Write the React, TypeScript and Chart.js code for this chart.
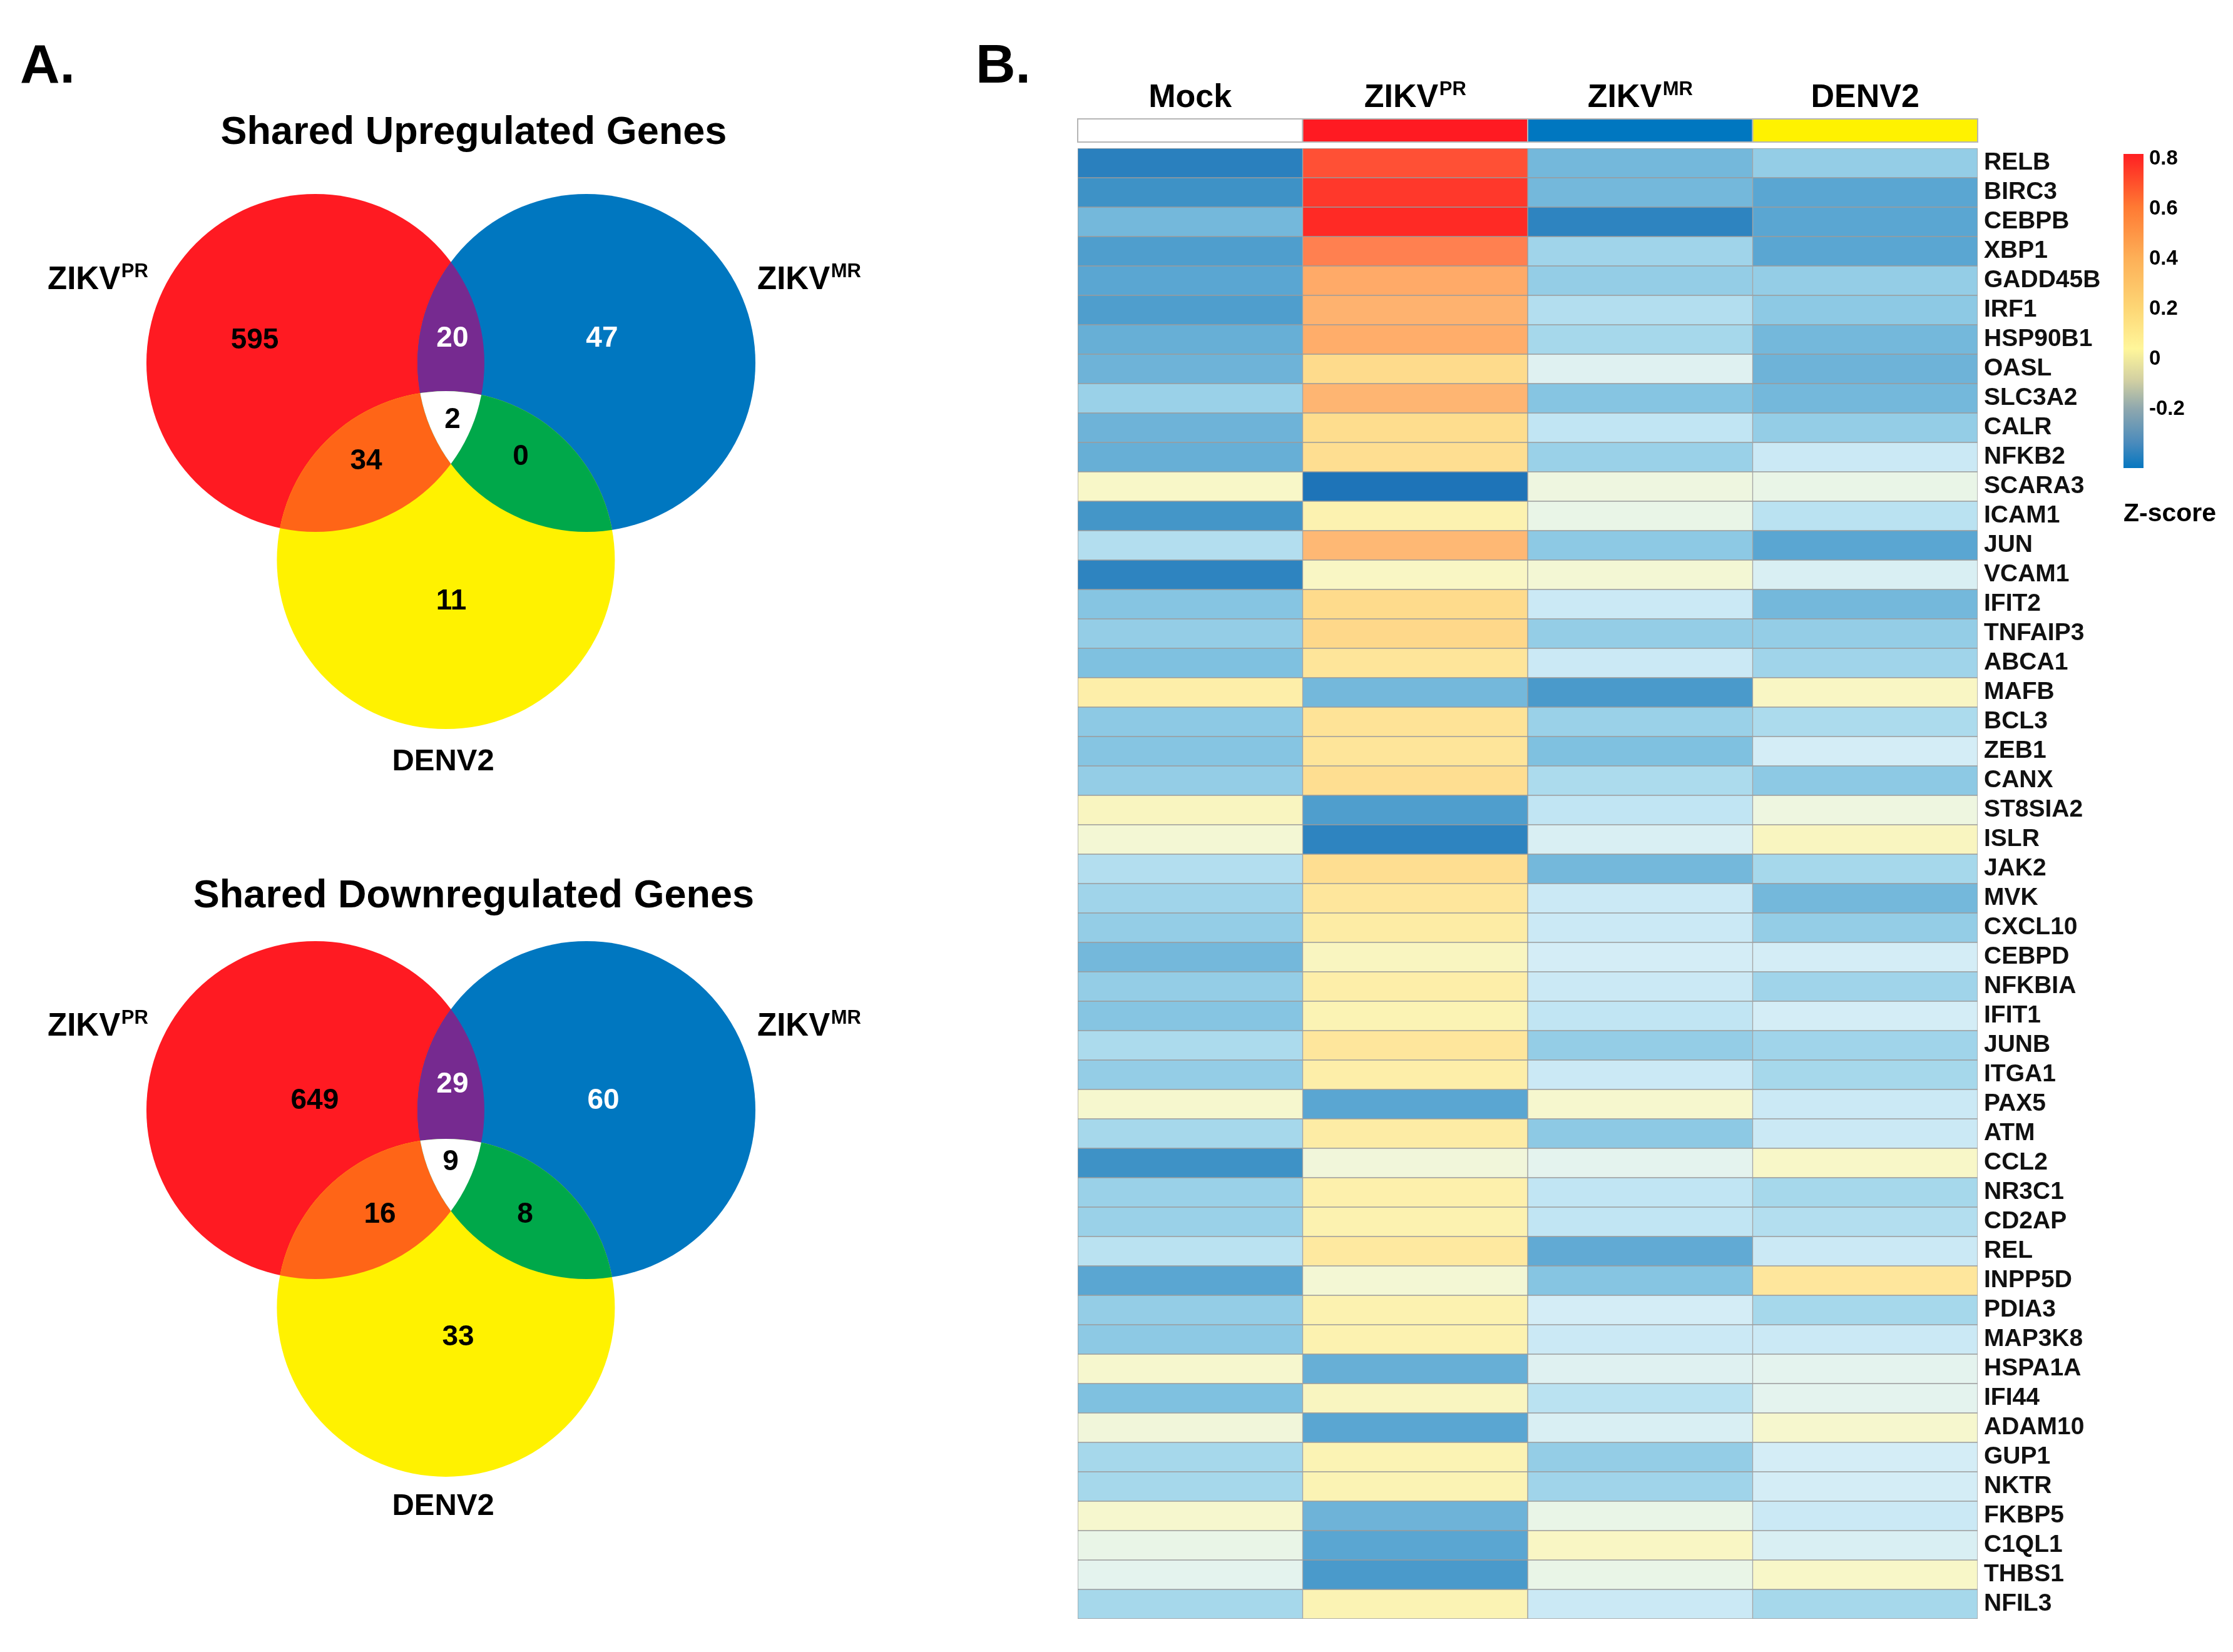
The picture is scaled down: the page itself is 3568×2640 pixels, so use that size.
import React, { useEffect, useRef } from "react";
import { Chart, registerables } from "chart.js";
Chart.register(...registerables);

// ================= DATA =================
const setNames = ["ZIKV", "ZIKV", "DENV2"];
const setSups = ["PR", "MR", ""];
// region order: PR only, MR only, DENV2 only, PR∩MR, PR∩DENV2, MR∩DENV2, all three
const regionNames = ["PR", "MR", "DENV2", "PR&MR", "PR&DENV2", "MR&DENV2", "PR&MR&DENV2"];
const upCounts = [595, 47, 11, 20, 34, 0, 2];
const downCounts = [649, 60, 33, 29, 16, 8, 9];

const genes = [
  "RELB", "BIRC3", "CEBPB", "XBP1", "GADD45B", "IRF1", "HSP90B1", "OASL", "SLC3A2", "CALR",
  "NFKB2", "SCARA3", "ICAM1", "JUN", "VCAM1", "IFIT2", "TNFAIP3", "ABCA1", "MAFB", "BCL3",
  "ZEB1", "CANX", "ST8SIA2", "ISLR", "JAK2", "MVK", "CXCL10", "CEBPD", "NFKBIA", "IFIT1",
  "JUNB", "ITGA1", "PAX5", "ATM", "CCL2", "NR3C1", "CD2AP", "REL", "INPP5D", "PDIA3",
  "MAP3K8", "HSPA1A", "IFI44", "ADAM10", "GUP1", "NKTR", "FKBP5", "C1QL1", "THBS1", "NFIL3",
];
const conditionNames = ["Mock", "ZIKV", "ZIKV", "DENV2"];
const conditionSups = ["", "PR", "MR", ""];

const mockZ = [
  -0.30, -0.26, -0.17, -0.23, -0.21, -0.23, -0.19, -0.18, -0.11, -0.18,
  -0.19, 0.06, -0.25, -0.07, -0.29, -0.14, -0.12, -0.15, 0.15, -0.13,
  -0.14, -0.12, 0.08, 0.04, -0.07, -0.10, -0.12, -0.17, -0.12, -0.14,
  -0.08, -0.12, 0.05, -0.09, -0.26, -0.11, -0.11, -0.06, -0.21, -0.12,
  -0.13, 0.05, -0.15, 0.03, -0.09, -0.09, 0.05, 0.01, 0.00, -0.09,
];
const zikvPrZ = [
  0.72, 0.77, 0.80, 0.60, 0.45, 0.42, 0.44, 0.28, 0.41, 0.27,
  0.26, -0.33, 0.12, 0.40, 0.07, 0.28, 0.29, 0.22, -0.17, 0.23,
  0.22, 0.26, -0.23, -0.29, 0.26, 0.21, 0.17, 0.08, 0.15, 0.11,
  0.21, 0.15, -0.21, 0.17, 0.03, 0.14, 0.12, 0.19, 0.04, 0.12,
  0.12, -0.19, 0.08, -0.21, 0.11, 0.11, -0.18, -0.21, -0.24, 0.11,
];
const zikvMrZ = [
  -0.17, -0.17, -0.29, -0.10, -0.12, -0.07, -0.09, -0.01, -0.14, -0.05,
  -0.11, 0.02, 0.01, -0.13, 0.04, -0.04, -0.12, -0.04, -0.24, -0.11,
  -0.15, -0.08, -0.05, -0.02, -0.17, -0.04, -0.04, -0.03, -0.04, -0.05,
  -0.12, -0.04, 0.05, -0.13, 0.00, -0.05, -0.05, -0.20, -0.14, -0.03,
  -0.04, -0.01, -0.06, -0.02, -0.12, -0.10, 0.01, 0.07, 0.01, -0.04,
];
const denv2Z = [
  -0.12, -0.21, -0.21, -0.21, -0.12, -0.13, -0.17, -0.18, -0.17, -0.12,
  -0.04, 0.01, -0.06, -0.21, -0.02, -0.17, -0.12, -0.10, 0.07, -0.08,
  -0.03, -0.13, 0.02, 0.08, -0.09, -0.17, -0.12, -0.03, -0.10, -0.03,
  -0.10, -0.09, -0.04, -0.04, 0.06, -0.09, -0.07, -0.04, 0.21, -0.09,
  -0.04, 0.00, 0.00, 0.05, -0.03, -0.03, -0.04, -0.02, 0.06, -0.09,
];
const legendTicks = [0.8, 0.6, 0.4, 0.2, 0, -0.2];

// ================= STYLE / LAYOUT =================
const FONT = '"Liberation Sans", Arial, Helvetica, sans-serif';
const SET_COLORS = ["#FF1A22", "#0077C0", "#FFF200"];
const PAIR_COLORS = { rb: "#762A90", ry: "#FF6517", by: "#00A84A", all: "#FFFFFF" };
const COUNT_TEXT_COLORS = ["#000", "#fff", "#000", "#fff", "#000", "#000", "#000"];
const ANNOT_COLORS = ["#FFFFFF", "#FF1A22", "#0077C0", "#FFF200"];
const UNIT = 270; // px per venn data unit (every circle has radius 1 unit)

const Z_STOPS: [number, string][] = [
  [-0.33, "#1E74B8"], [-0.29, "#2E84C0"], [-0.25, "#4496C8"], [-0.21, "#5AA6D2"],
  [-0.18, "#6EB3D8"], [-0.15, "#7FC1E0"], [-0.12, "#94CDE6"], [-0.08, "#ACDBED"],
  [-0.05, "#C1E5F3"], [-0.03, "#D4EDF6"], [0, "#E4F3EE"], [0.02, "#EEF6E0"],
  [0.06, "#F8F7C8"], [0.12, "#FCF2B0"], [0.2, "#FEE89E"], [0.28, "#FEDB8C"],
  [0.4, "#FEB874"], [0.45, "#FFAA68"], [0.6, "#FF8050"], [0.72, "#FF5035"], [0.8, "#FF2A25"],
];
function hex(c: string) {
  return [1, 3, 5].map((i) => parseInt(c.slice(i, i + 2), 16));
}
function zColor(v: number) {
  if (v <= Z_STOPS[0][0]) return Z_STOPS[0][1];
  for (let i = 1; i < Z_STOPS.length; i++) {
    if (v <= Z_STOPS[i][0]) {
      const [a, ca] = Z_STOPS[i - 1];
      const [b, cb] = Z_STOPS[i];
      const t = (v - a) / (b - a);
      const A = hex(ca), B = hex(cb);
      const m = A.map((x, k) => Math.round(x + (B[k] - x) * t));
      return `rgb(${m[0]},${m[1]},${m[2]})`;
    }
  }
  return Z_STOPS[Z_STOPS.length - 1][1];
}

function drawSup(ctx: CanvasRenderingContext2D, base: string, sup: string, x: number, y: number,
  size: number, supSize: number, align: "left" | "center", color = "#000") {
  ctx.save();
  ctx.textAlign = "left";
  ctx.textBaseline = "alphabetic";
  ctx.fillStyle = color;
  ctx.font = `bold ${size}px ${FONT}`;
  const wb = ctx.measureText(base).width;
  ctx.font = `bold ${supSize}px ${FONT}`;
  const gap = sup ? size * 0.03 : 0;
  const ws = sup ? ctx.measureText(sup).width : 0;
  const total = wb + gap + ws;
  const x0 = align === "center" ? x - total / 2 : x;
  ctx.font = `bold ${size}px ${FONT}`;
  ctx.fillText(base, x0, y);
  if (sup) {
    ctx.font = `bold ${supSize}px ${FONT}`;
    ctx.fillText(sup, x0 + wb + gap, y - size * 0.37);
  }
  ctx.restore();
}

type VennLayout = {
  top: number; height: number; cy: number; cx: number;
  centers: [number, number][];
  countPos: [number, number][];
  labelPR: [number, number]; labelMR: [number, number]; labelDENV: [number, number];
  title: [number, number]; titleText: string; panel: [number, number] | null;
};
const VENN_W = 1500;
const upLayout: VennLayout = {
  top: 0, height: 1300, cy: 580, cx: 720.5,
  centers: [[-0.802, 0], [0.802, 0], [-0.03, -1.167]],
  countPos: [[-1.161, 0.137], [0.894, 0.148], [0.002, -1.407], [0.009, 0.148], [-0.502, -0.578], [0.413, -0.552], [0.009, -0.333]],
  labelPR: [-2.387, 0.437], labelMR: [1.813, 0.437], labelDENV: [-0.046, -2.411],
  title: [0.135, 1.296], titleText: "Shared Upregulated Genes", panel: [-2.55, 1.659],
};
const downLayout: VennLayout = {
  top: 1300, height: 1340, cy: 474, cx: 720.5,
  centers: [[-0.802, 0], [0.802, 0], [-0.03, -1.17]],
  countPos: [[-0.806, 0.059], [0.902, 0.059], [0.043, -1.341], [0.009, 0.156], [-0.42, -0.615], [0.439, -0.615], [-0.002, -0.304]],
  labelPR: [-2.387, 0.441], labelMR: [1.813, 0.441], labelDENV: [-0.046, -2.396],
  title: [0.135, 1.2], titleText: "Shared Downregulated Genes", panel: null,
};

function vennConfig(counts: number[], L: VennLayout): any {
  const overlayPlugin = {
    id: "vennOverlay",
    afterDatasetsDraw(chart: any) {
      const { ctx } = chart;
      const xs = chart.scales.x, ys = chart.scales.y;
      const px = (v: number) => xs.getPixelForValue(v);
      const py = (v: number) => ys.getPixelForValue(v);
      const meta = chart.getDatasetMeta(0);
      const c = meta.data.map((e: any) => [e.x, e.y, e.options.radius]);
      const circ = (i: number) => { ctx.beginPath(); ctx.arc(c[i][0], c[i][1], c[i][2], 0, Math.PI * 2); };
      const inter = (a: number, b: number, col: string) => {
        ctx.save(); circ(a); ctx.clip(); circ(b); ctx.fillStyle = col; ctx.fill(); ctx.restore();
      };
      inter(0, 1, PAIR_COLORS.rb);
      inter(0, 2, PAIR_COLORS.ry);
      inter(1, 2, PAIR_COLORS.by);
      ctx.save(); circ(0); ctx.clip(); circ(1); ctx.clip(); circ(2); ctx.fillStyle = PAIR_COLORS.all; ctx.fill(); ctx.restore();

      // counts
      const cm = chart.getDatasetMeta(1);
      ctx.save();
      ctx.textAlign = "center";
      ctx.textBaseline = "middle";
      ctx.font = `bold 46px ${FONT}`;
      cm.data.forEach((el: any, i: number) => {
        ctx.fillStyle = COUNT_TEXT_COLORS[i];
        ctx.fillText(String(counts[i]), el.x, el.y + 1);
      });
      ctx.restore();

      // set labels
      drawSup(ctx, setNames[0], setSups[0], px(L.labelPR[0]), py(L.labelPR[1]), 51, 31, "left");
      drawSup(ctx, setNames[1], setSups[1], px(L.labelMR[0]), py(L.labelMR[1]), 51, 31, "left");
      drawSup(ctx, setNames[2], setSups[2], px(L.labelDENV[0]), py(L.labelDENV[1]), 49, 30, "center");

      // title
      ctx.save();
      ctx.fillStyle = "#000";
      ctx.textAlign = "center";
      ctx.textBaseline = "alphabetic";
      ctx.font = `bold 63px ${FONT}`;
      ctx.fillText(L.titleText, px(L.title[0]), py(L.title[1]));
      if (L.panel) {
        ctx.textAlign = "left";
        ctx.font = `bold 88px ${FONT}`;
        ctx.fillText("A.", px(L.panel[0]), py(L.panel[1]));
      }
      ctx.restore();
    },
  };
  return {
    type: "bubble",
    data: {
      datasets: [
        {
          label: "sets",
          // r: one data unit of the linear scales (scales are built with UNIT px per unit)
          data: L.centers.map(([x, y]) => ({ x, y, r: UNIT })),
          backgroundColor: SET_COLORS,
          borderWidth: 0,
          clip: false,
        },
        {
          type: "scatter",
          label: "counts",
          data: L.countPos.map(([x, y], i) => ({ x, y, region: regionNames[i] })),
          pointRadius: 0,
          pointHoverRadius: 0,
          clip: false,
        },
      ],
    },
    options: {
      animation: false,
      responsive: false,
      devicePixelRatio: 1,
      events: [],
      layout: { padding: 0, autoPadding: false },
      plugins: { legend: { display: false }, tooltip: { enabled: false } },
      scales: {
        x: { type: "linear", display: false, min: -L.cx / UNIT, max: (VENN_W - L.cx) / UNIT },
        y: { type: "linear", display: false, min: -(L.height - L.cy) / UNIT, max: L.cy / UNIT },
      },
    },
    plugins: [overlayPlugin],
  };
}

const HM_LEFT = 1500;
const HM_W = 3568 - HM_LEFT;
const HM_H = 2640;

function heatmapConfig(): any {
  const values = [mockZ, zikvPrZ, zikvMrZ, denv2Z];
  const deco = {
    id: "hmDeco",
    afterDraw(chart: any) {
      const { ctx, chartArea } = chart;
      const xs = chart.scales.x;
      ctx.save();
      // panel letter
      ctx.fillStyle = "#000";
      ctx.textAlign = "left";
      ctx.textBaseline = "alphabetic";
      ctx.font = `bold 88px ${FONT}`;
      ctx.fillText("B.", 59, 132);
      // annotation strip + headers
      const stripTop = chartArea.top - 47;
      const stripH = 37;
      for (let i = 0; i < 4; i++) {
        const x0 = xs.getPixelForValue(i);
        const x1 = xs.getPixelForValue(i + 1);
        ctx.fillStyle = ANNOT_COLORS[i];
        ctx.fillRect(x0, stripTop, x1 - x0, stripH);
        ctx.strokeStyle = "#b5b5b5";
        ctx.lineWidth = 2;
        ctx.strokeRect(x0, stripTop, x1 - x0, stripH);
        drawSup(ctx, conditionNames[i], conditionSups[i], (x0 + x1) / 2, chartArea.top - 66, 52, 31, "center");
      }
      // colour bar legend
      const barX = 1893, barW = 32, barTop = 246, barBot = 748;
      const g = ctx.createLinearGradient(0, barTop, 0, barBot);
      g.addColorStop(0, "#FF1F22");
      g.addColorStop(0.17, "#FF7A33");
      g.addColorStop(0.33, "#FDAF57");
      g.addColorStop(0.49, "#FDD675");
      g.addColorStop(0.62, "#FFF69A");
      g.addColorStop(0.72, "#D2D0A2");
      g.addColorStop(0.81, "#8FA8AE");
      g.addColorStop(0.92, "#4A8BBC");
      g.addColorStop(1, "#0677C0");
      ctx.fillStyle = g;
      ctx.fillRect(barX, barTop, barW, barBot - barTop);
      ctx.fillStyle = "#000";
      ctx.textAlign = "left";
      ctx.textBaseline = "middle";
      ctx.font = `bold 33px ${FONT}`;
      legendTicks.forEach((t) => {
        const y = 254 + (0.8 - t) * 400;
        ctx.fillText(t === 0 ? "0" : String(t), barX + 41, y);
      });
      ctx.font = `bold 41px ${FONT}`;
      ctx.fillText("Z-score", barX, 822);
      ctx.restore();
    },
  };
  return {
    type: "bar",
    data: {
      labels: genes,
      datasets: values.map((vals, i) => ({
        label: conditionNames[i] + conditionSups[i],
        data: genes.map(() => 1),
        backgroundColor: vals.map(zColor),
        borderColor: "#9b9b9b",
        borderWidth: 1,
        borderSkipped: false,
        categoryPercentage: 1,
        barPercentage: 1,
      })),
    },
    options: {
      indexAxis: "y",
      animation: false,
      responsive: false,
      devicePixelRatio: 1,
      events: [],
      layout: { padding: { left: 222, top: 237, right: 148, bottom: 53 } },
      plugins: { legend: { display: false }, tooltip: { enabled: false }, title: { display: false } },
      scales: {
        x: { stacked: true, min: 0, max: 4, display: false },
        y: {
          stacked: true,
          position: "right",
          grid: { display: false, drawTicks: false },
          border: { display: false },
          ticks: { autoSkip: false, padding: 10, color: "#111", font: { family: FONT, size: 39, weight: "bold" } },
          afterFit: (s: any) => { s.width = 260; },
        },
      },
    },
    plugins: [deco],
  };
}

function ChartCanvas({ config, left, top, width, height }: { config: () => any; left: number; top: number; width: number; height: number }) {
  const ref = useRef<HTMLCanvasElement | null>(null);
  useEffect(() => {
    if (!ref.current) return;
    const chart = new Chart(ref.current, config());
    return () => chart.destroy();
  }, []);
  return (
    <canvas
      ref={ref}
      width={width}
      height={height}
      style={{ position: "absolute", left, top, width, height }}
    />
  );
}

export default function App() {
  return (
    <div style={{ position: "fixed", left: 0, top: 0, width: 3568, height: 2640, background: "#fff", overflow: "hidden" }}>
      <ChartCanvas config={() => vennConfig(upCounts, upLayout)} left={0} top={upLayout.top} width={VENN_W} height={upLayout.height} />
      <ChartCanvas config={() => vennConfig(downCounts, downLayout)} left={0} top={downLayout.top} width={VENN_W} height={downLayout.height} />
      <ChartCanvas config={heatmapConfig} left={HM_LEFT} top={0} width={HM_W} height={HM_H} />
    </div>
  );
}
